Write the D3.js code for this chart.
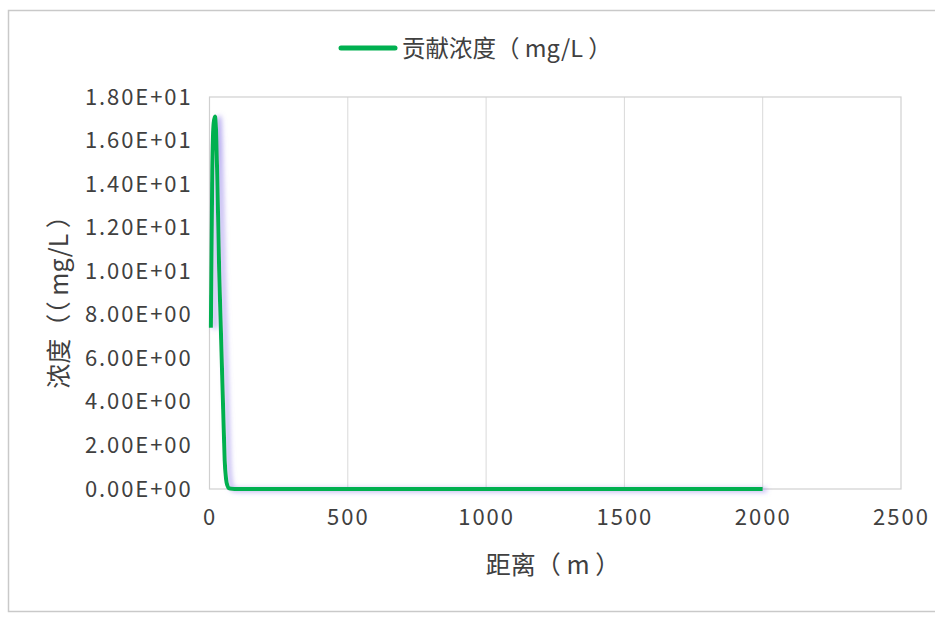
<!DOCTYPE html>
<html>
<head>
<meta charset="utf-8">
<script src="https://cdn.jsdelivr.net/npm/d3@7"></script>
<style>
  html, body { margin: 0; padding: 0; background: #fff; }
  svg { display: block; }
  text { font-family: "Noto Sans CJK SC", "Noto Sans", sans-serif; fill: #404040; }
</style>
</head>
<body>
<svg id="chart" width="935" height="617"></svg>
<script>
// Distance (m) and contributed concentration (mg/L)
const distance = [5, 10, 15, 20, 25, 30, 35, 40, 45, 50, 55, 60, 65, 70, 80, 100, 500, 1000, 1500, 2000];
const concentration = [7.4, 14.6, 16.8, 17.1, 16.0, 13.2, 10.0, 7.8, 5.6, 3.4, 1.3, 0.45, 0.15, 0.04, 0.01, 0, 0, 0, 0, 0];
const xTicks = [0, 500, 1000, 1500, 2000, 2500];
const yTicks = [0, 2, 4, 6, 8, 10, 12, 14, 16, 18];
const seriesName = "贡献浓度（ mg/L ）";
const xTitle = "距离（ m ）";
const yTitle = "浓度（（ mg/L ）";

const svg = d3.select("#chart");
const plot = { left: 209.5, right: 901, top: 97, bottom: 489 };

// outer frame
svg.append("rect")
  .attr("x", 8.5).attr("y", 10.5)
  .attr("width", 940).attr("height", 601)
  .attr("fill", "#fff").attr("stroke", "#c9c9c9").attr("stroke-width", 1.5);

const x = d3.scaleLinear().domain([0, 2500]).range([plot.left, plot.right]);
const y = d3.scaleLinear().domain([0, 18]).range([plot.bottom, plot.top]);

// vertical gridlines
svg.append("g")
  .selectAll("line")
  .data(xTicks.slice(1, -1))
  .join("line")
  .attr("x1", d => x(d)).attr("x2", d => x(d))
  .attr("y1", plot.top).attr("y2", plot.bottom)
  .attr("stroke", "#d9d9d9").attr("stroke-width", 1);

// plot area border
svg.append("rect")
  .attr("x", plot.left).attr("y", plot.top)
  .attr("width", plot.right - plot.left).attr("height", plot.bottom - plot.top)
  .attr("fill", "none").attr("stroke", "#d0d0d0").attr("stroke-width", 1.2);

// axes (labels only)
const xAxis = svg.append("g")
  .attr("transform", `translate(0,${plot.bottom})`)
  .call(d3.axisBottom(x).tickValues(xTicks).tickSize(0).tickPadding(20).tickFormat(d3.format("d")));
xAxis.select(".domain").remove();
xAxis.selectAll("text").style("font-size", "22px").attr("fill", "#404040")
  .style("letter-spacing", "2px")
  .style("font-family", "'Noto Sans CJK SC', sans-serif");

const yFmt = v => {
  const e = v === 0 ? 0 : Math.floor(Math.log10(Math.abs(v)));
  const m = v / Math.pow(10, e);
  return m.toFixed(2) + "E" + (e >= 0 ? "+" : "-") + String(Math.abs(e)).padStart(2, "0");
};
const yAxis = svg.append("g")
  .attr("transform", `translate(${plot.left},0)`)
  .call(d3.axisLeft(y).tickValues(yTicks).tickSize(0).tickPadding(17).tickFormat(yFmt));
yAxis.select(".domain").remove();
yAxis.selectAll("text").style("font-size", "22px").attr("fill", "#404040")
  .style("letter-spacing", "1.9px")
  .style("font-family", "'Noto Sans CJK SC', sans-serif");

// axis titles
svg.append("text")
  .attr("x", 553).attr("y", 574)
  .attr("text-anchor", "middle")
  .style("font-size", "25px")
  .text(xTitle);

svg.append("text")
  .attr("transform", "translate(68,296) rotate(-90)")
  .attr("text-anchor", "middle")
  .style("font-size", "25px")
  .text(yTitle);

// legend
svg.append("line")
  .attr("x1", 341).attr("x2", 395).attr("y1", 48).attr("y2", 48)
  .attr("stroke", "#00b050").attr("stroke-width", 5).attr("stroke-linecap", "round");
svg.append("text")
  .attr("x", 402).attr("y", 57)
  .style("font-size", "23.5px")
  .text(seriesName);

// soft glow behind the series line
const defs = svg.append("defs");
const f = defs.append("filter").attr("id", "glow")
  .attr("x", "-50%").attr("y", "-10%").attr("width", "200%").attr("height", "120%");
f.append("feGaussianBlur").attr("in", "SourceAlpha").attr("stdDeviation", 2.5).attr("result", "b");
f.append("feOffset").attr("in", "b").attr("dx", 4).attr("dy", 1).attr("result", "o");
f.append("feFlood").attr("flood-color", "#8a78e6").attr("flood-opacity", 0.6);
f.append("feComposite").attr("in2", "o").attr("operator", "in").attr("result", "s");
const m = f.append("feMerge");
m.append("feMergeNode").attr("in", "s");
m.append("feMergeNode").attr("in", "SourceGraphic");

const pts = distance.map((d, i) => [d, concentration[i]]);
const line = d3.line()
  .x(d => x(d[0])).y(d => y(d[1]))
  .curve(d3.curveMonotoneX);

svg.append("path")
  .datum(pts)
  .attr("d", line)
  .attr("fill", "none")
  .attr("stroke", "#00b050")
  .attr("stroke-width", 4)
  .attr("stroke-linejoin", "round")
  .attr("filter", "url(#glow)");
</script>
</body>
</html>
